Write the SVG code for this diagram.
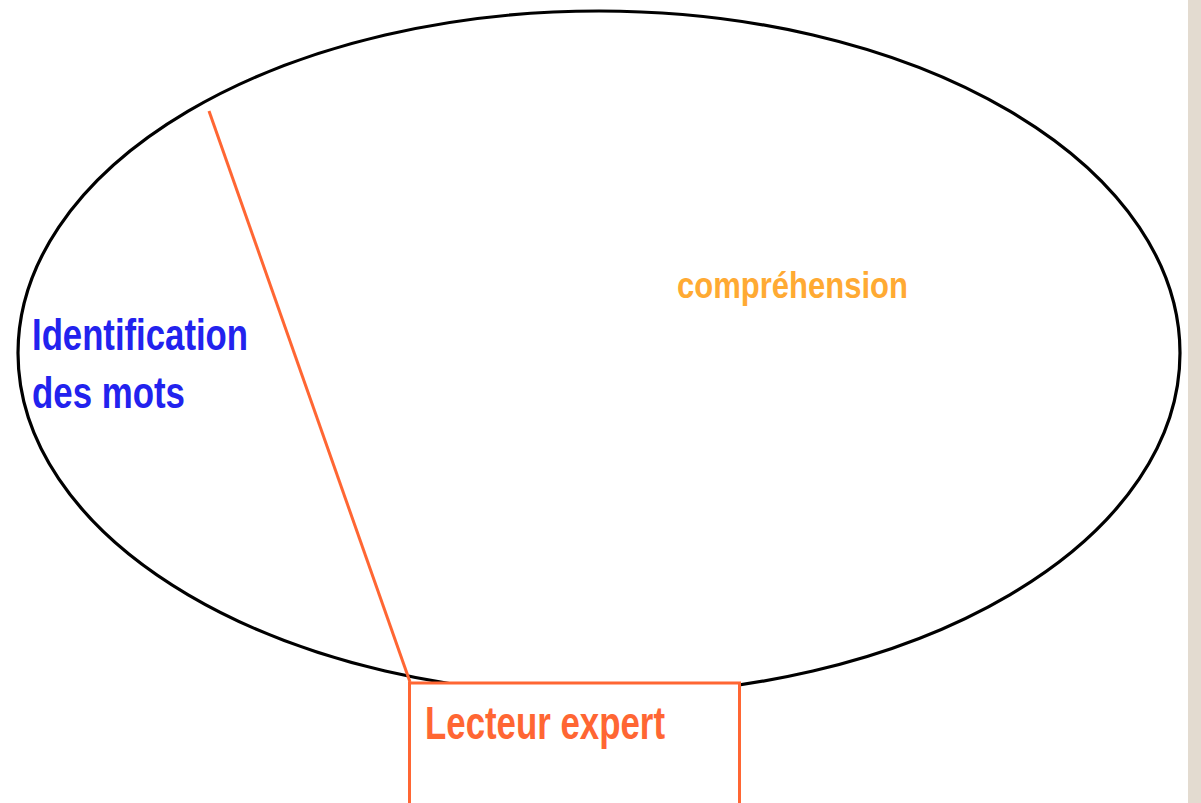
<svg xmlns="http://www.w3.org/2000/svg" width="1201" height="803" viewBox="0 0 1201 803">
<style>
.lbl{font-family:"Liberation Sans",Arial,sans-serif;font-weight:bold}
.or{stroke:#ff6633;stroke-width:3;fill:none}
</style>
<rect x="0" y="0" width="1201" height="803" fill="#ffffff"/>
<rect x="1188" y="0" width="13" height="803" fill="#e3dbd0"/>
<g id="ellipse">
<ellipse cx="599" cy="353" rx="581" ry="342" fill="none" stroke="#000" stroke-width="3.2"/>
</g>
<g id="comprehension">
<text class="lbl" x="677" y="298" font-size="36" fill="#ffaa33" textLength="231" lengthAdjust="spacingAndGlyphs">compréhension</text>
</g>
<g id="identification">
<text class="lbl" x="32" y="350" font-size="44" fill="#2222ee" textLength="216" lengthAdjust="spacingAndGlyphs">Identification</text>
<text class="lbl" x="32" y="408" font-size="44" fill="#2222ee" textLength="153" lengthAdjust="spacingAndGlyphs">des mots</text>
</g>
<g id="connectors">
<line class="or" x1="209" y1="111" x2="410" y2="682"/>
</g>
<g id="lecteur">
<rect class="or" x="409.5" y="683" width="330" height="130" style="fill:#fff"/>
<text class="lbl" x="425" y="739" font-size="47" fill="#ff6633" textLength="240" lengthAdjust="spacingAndGlyphs">Lecteur expert</text>
</g>
</svg>
